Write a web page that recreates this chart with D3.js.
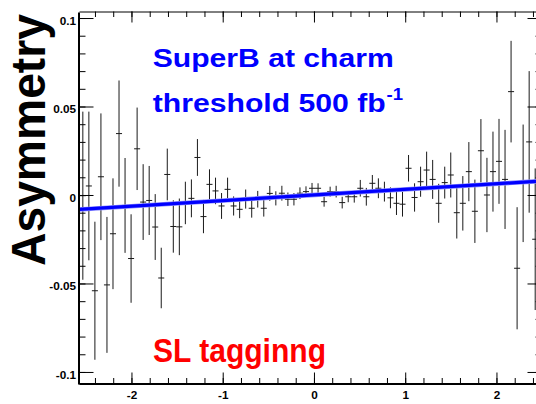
<!DOCTYPE html>
<html>
<head>
<meta charset="utf-8">
<script src="https://cdn.jsdelivr.net/npm/d3@7"></script>
<style>
  html, body { margin: 0; padding: 0; background: #fff; overflow: hidden; }
  svg { display: block; }
  text { font-family: "Liberation Sans", Arial, Helvetica, sans-serif; font-weight: bold; }
</style>
</head>
<body>
<svg id="chart" width="536" height="404"></svg>
<script>
// Histogram binning: bin centres lie on a regular grid
const binStart = -2.533;
const binWidth = 0.0661;

// Measured asymmetry in each bin
const asymmetry = [
  -0.0004, 0.0051, -0.0541, 0.0103, -0.0508, -0.0219, 0.0347, -0.0059, -0.0359, 0.0261,
  -0.0040, -0.0031, -0.0181, -0.0469, 0.0116, -0.0178, -0.0180, -0.0045, -0.0019, 0.0212,
  -0.0122, 0.0060, 0.0023, -0.0062, 0.0032, -0.0062, -0.0081, -0.0023, -0.0075, -0.0024,
  -0.0075, 0.0009, -0.0019, 0.0010, -0.0024, -0.0024, 0.0010, 0.0019, 0.0038, 0.0038,
  -0.0038, 0.0019, 0.0019, -0.0043, -0.0010, -0.0010, 0.0038, -0.0010, 0.0066, 0.0038,
  0.0019, -0.0016, -0.0047, -0.0052, 0.0151, -0.0014, 0.0075, 0.0141, 0.0088, -0.0047,
  0.0070, 0.0113, -0.0100, -0.0047, 0.0132, -0.0092, 0.0250, 0.0000, 0.0132, 0.0190,
  0.0088, 0.0584, -0.0414, 0.0066, 0.0300, -0.0250
];

// Statistical uncertainty of each bin
const errors = [
  0.0475, 0.0420, 0.0390, 0.0358, 0.0384, 0.0313, 0.0300, 0.0268, 0.0250, 0.0233,
  0.0214, 0.0195, 0.0186, 0.0171, 0.0146, 0.0148, 0.0160, 0.0120, 0.0107, 0.0104,
  0.0094, 0.0085, 0.0075, 0.0073, 0.0066, 0.0054, 0.0050, 0.0054, 0.0053, 0.0047,
  0.0047, 0.0042, 0.0040, 0.0042, 0.0038, 0.0035, 0.0033, 0.0030, 0.0030, 0.0028,
  0.0028, 0.0028, 0.0033, 0.0033, 0.0031, 0.0033, 0.0047, 0.0050, 0.0047, 0.0056,
  0.0056, 0.0059, 0.0066, 0.0070, 0.0075, 0.0080, 0.0085, 0.0104, 0.0110, 0.0110,
  0.0090, 0.0127, 0.0146, 0.0154, 0.0167, 0.0179, 0.0179, 0.0210, 0.0226, 0.0240,
  0.0280, 0.0287, 0.0345, 0.0332, 0.0400, 0.0400
];

// Linear fit A(x) = p0 + p1 * x
const fitParams = [0.0, 0.00317];

// Axis ranges and labelled ticks
const xRange = [-2.575, 2.51];
const yRange = [-0.1068, 0.1034];
const xTicks = [-2, -1, 0, 1, 2];
const xTickLabels = ["-2", "-1", "0", "1", "2"];
const yTicks = [-0.1, -0.05, 0, 0.05, 0.1];
const yTickLabels = ["-0.1", "-0.05", "0", "0.05", "0.1"];

const svg = d3.select("#chart");
const frame = { left: 79, right: 543, top: 12, bottom: 384 };

const x = d3.scaleLinear().domain(xRange).range([frame.left, frame.right]);
const y = d3.scaleLinear().domain(yRange).range([frame.bottom, frame.top]);

const bins = asymmetry.map((v, i) => ({
  c: binStart + i * binWidth,
  v: v,
  e: errors[i]
}));

// Error bars: vertical for the uncertainty, horizontal across the bin
const bars = svg.append("g").attr("stroke", "#1a1a1a").attr("stroke-width", 1).attr("fill", "none");
bars.selectAll("line.v").data(bins).join("line")
  .attr("class", "v")
  .attr("x1", d => x(d.c)).attr("x2", d => x(d.c))
  .attr("y1", d => y(d.v - d.e)).attr("y2", d => y(d.v + d.e));
bars.selectAll("line.h").data(bins).join("line")
  .attr("class", "h")
  .attr("x1", d => x(d.c - binWidth / 2)).attr("x2", d => x(d.c + binWidth / 2))
  .attr("y1", d => y(d.v)).attr("y2", d => y(d.v));

// Fitted line
const fitLine = d3.line().x(d => x(d)).y(d => y(fitParams[0] + fitParams[1] * d));
svg.append("path")
  .datum(xRange)
  .attr("d", fitLine)
  .attr("fill", "none")
  .attr("stroke", "#8f8fff")
  .attr("stroke-width", 4.6);
svg.append("path")
  .datum(xRange)
  .attr("d", fitLine)
  .attr("fill", "none")
  .attr("stroke", "#0000ff")
  .attr("stroke-width", 3.2);

// Axes with minor and major ticks on all four sides
const xMinor = d3.range(-25, 26).map(k => k * 0.2).filter(v => v >= xRange[0] && v <= xRange[1]);
const yMinor = d3.range(-10, 11).map(k => k * 0.01);

function styleAxis(g, w) {
  g.select(".domain").attr("stroke-width", w);
  g.selectAll("text").remove();
}

// bottom
svg.append("g").attr("transform", `translate(0,${frame.bottom - 0.5})`)
  .call(d3.axisBottom(x).tickValues(xMinor).tickSize(-5.5).tickSizeOuter(0).tickFormat(""))
  .call(g => styleAxis(g, 2));
const xAxisMajor = svg.append("g").attr("transform", `translate(0,${frame.bottom - 0.5})`)
  .call(d3.axisBottom(x).tickValues(xTicks).tickSize(-11).tickSizeOuter(0).tickPadding(8)
    .tickFormat((d, i) => xTickLabels[i]));
xAxisMajor.select(".domain").remove();
xAxisMajor.selectAll("text")
  .attr("font-size", 10.5)
  .attr("fill", "#000")
  .attr("transform", "scale(1.12,1)");

// top
svg.append("g").attr("transform", `translate(0,${frame.top - 0.5})`)
  .call(d3.axisTop(x).tickValues(xMinor).tickSize(-5.5).tickSizeOuter(0).tickFormat(""))
  .call(g => styleAxis(g, 1));
svg.append("g").attr("transform", `translate(0,${frame.top - 0.5})`)
  .call(d3.axisTop(x).tickValues(xTicks).tickSize(-11).tickSizeOuter(0).tickFormat(""))
  .call(g => styleAxis(g, 0));

// left
svg.append("g").attr("transform", `translate(${frame.left - 0.5},0)`)
  .call(d3.axisLeft(y).tickValues(yMinor).tickSize(-7).tickSizeOuter(0).tickFormat(""))
  .call(g => styleAxis(g, 2));
const yAxisMajor = svg.append("g").attr("transform", `translate(${frame.left - 0.5},0)`)
  .call(d3.axisLeft(y).tickValues(yTicks).tickSize(-15).tickSizeOuter(0).tickPadding(2.2)
    .tickFormat((d, i) => yTickLabels[i]));
yAxisMajor.select(".domain").remove();
yAxisMajor.selectAll("text")
  .attr("font-size", 10.5)
  .attr("fill", "#000")
  .attr("dy", "0.6em")
  .attr("transform", "scale(1.12,1)");

// right
svg.append("g").attr("transform", `translate(${frame.right - 0.5},0)`)
  .call(d3.axisRight(y).tickValues(yMinor).tickSize(-7).tickSizeOuter(0).tickFormat(""))
  .call(g => styleAxis(g, 1));
svg.append("g").attr("transform", `translate(${frame.right - 0.5},0)`)
  .call(d3.axisRight(y).tickValues(yTicks).tickSize(-15).tickSizeOuter(0).tickFormat(""))
  .call(g => styleAxis(g, 0));

// Y axis title
svg.append("text")
  .attr("transform", "translate(45,140) rotate(-90)")
  .attr("text-anchor", "middle")
  .attr("font-size", 48)
  .attr("textLength", 252)
  .attr("lengthAdjust", "spacingAndGlyphs")
  .attr("fill", "#000")
  .text("Asymmetry");

// Annotations
svg.append("text")
  .attr("x", 152.7).attr("y", 67.3)
  .attr("font-size", 26.5)
  .attr("textLength", 241)
  .attr("lengthAdjust", "spacingAndGlyphs")
  .attr("fill", "#0000ff")
  .text("SuperB at charm");
svg.append("text")
  .attr("x", 152.7).attr("y", 111.7)
  .attr("font-size", 26.5)
  .attr("textLength", 233)
  .attr("lengthAdjust", "spacingAndGlyphs")
  .attr("fill", "#0000ff")
  .text("threshold 500 fb");
svg.append("text")
  .attr("x", 386.5).attr("y", 100)
  .attr("font-size", 16.5)
  .attr("textLength", 16.5)
  .attr("lengthAdjust", "spacingAndGlyphs")
  .attr("fill", "#0000ff")
  .text("-1");
svg.append("text")
  .attr("x", 153).attr("y", 361.7)
  .attr("font-size", 34)
  .attr("textLength", 173)
  .attr("lengthAdjust", "spacingAndGlyphs")
  .attr("fill", "#ff0000")
  .text("SL tagginng");
</script>
</body>
</html>
